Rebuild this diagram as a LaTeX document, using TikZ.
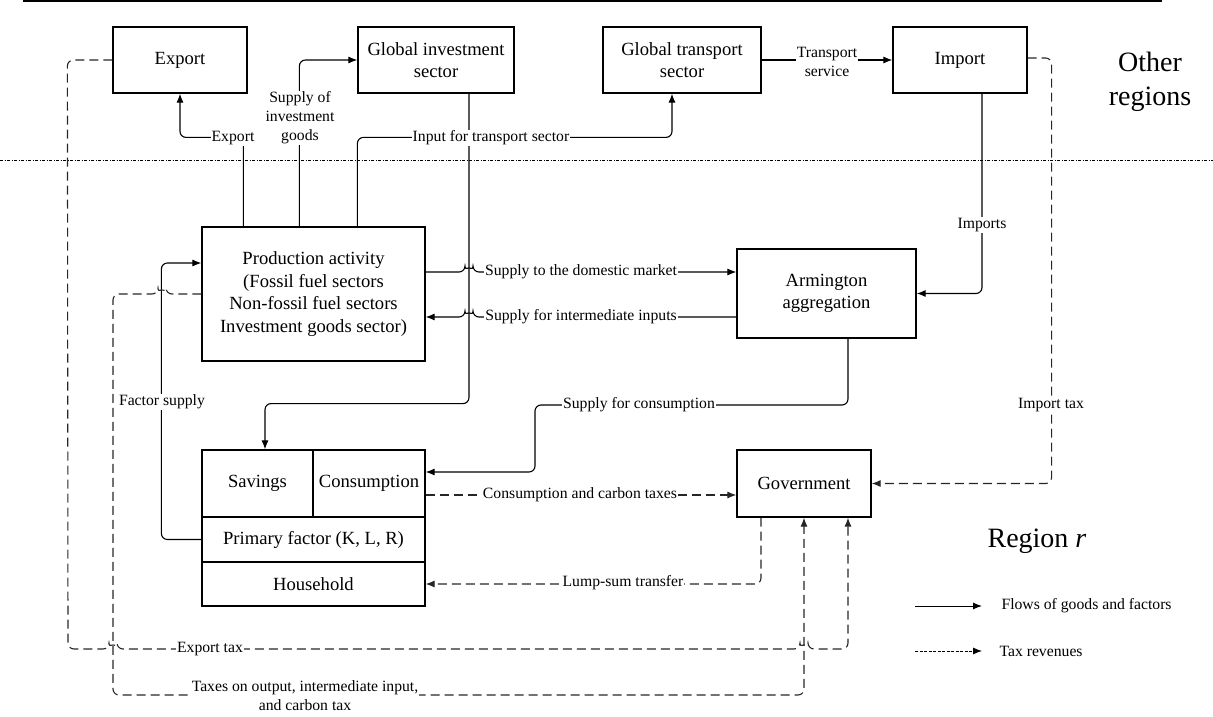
\documentclass[tikz,border=0pt]{standalone}
\usepackage{fontspec}
\setmainfont{Liberation Serif}
\usetikzlibrary{arrows.meta}
\newcommand{\bxfont}{\fontsize{18.6}{22.6}\selectfont}
\newcommand{\lbfont}{\fontsize{15.7}{19}\selectfont}
\newcommand{\bigfont}{\fontsize{28}{34}\selectfont}
\begin{document}
\begin{tikzpicture}[x=1pt,y=-1pt,
  box/.style={draw=black, line width=1.2pt, align=center, font=\bxfont, inner sep=0pt},
  lbl/.style={fill=white, inner sep=1pt, font=\lbfont, align=center},
  flow/.style={draw=black, line width=1.1pt, rounded corners=6pt, -{Latex[length=9pt,width=7pt]}},
  tax/.style={draw=black!85, line width=1.1pt, dash pattern=on 9pt off 5pt, rounded corners=6pt, -{Latex[length=9pt,width=7pt]}},
]
\useasboundingbox (0,0) rectangle (1213,717);
% frame lines
\draw[line width=1.6pt] (23,1) coordinate (tl) -- (1162,1) coordinate (tr);
\draw[line width=0.7pt, dash pattern=on 3pt off 1.5pt on 1pt off 1.5pt] (0,160) coordinate (dl) -- (1213,160) coordinate (dr);

% boxes
\node[box, minimum width=134pt, minimum height=66pt] (exp) at (180,60) {Export};
\node[box, minimum width=156pt, minimum height=66pt] (ginv) at (436,60) {Global investment\\sector};
\node[box, minimum width=158pt, minimum height=66pt] (gtr) at (682,60) {Global transport\\sector};
\node[box, minimum width=134pt, minimum height=66pt] (imp) at (960,60) {Import};
\node[box, minimum width=223pt, minimum height=134pt] (prod) at (313.5,294) {Production activity\\(Fossil fuel sectors\\Non-fossil fuel sectors\\Investment goods sector)};
\node[box, minimum width=179pt, minimum height=89pt] (arm) at (826.5,293.5) {Armington\\aggregation};
\node[box, minimum width=111pt, minimum height=67pt] (sav) at (257.5,483.5) {Savings};
\node[box, minimum width=112pt, minimum height=67pt] (cons) at (369,483.5) {Consumption};
\node[box, minimum width=223pt, minimum height=45pt] (prim) at (313.5,539.5) {Primary factor (K, L, R)};
\node[box, minimum width=223pt, minimum height=44pt] (hh) at (313.5,584) {Household};
\node[box, minimum width=134pt, minimum height=67pt] (gov) at (804,483.5) {Government};

% region labels
\node[font=\bigfont, align=center] (oth) at (1150,82) {Other\\regions};
\node[font=\bigfont] (reg) at (1037,541) {Region \textit{r}};

% solid flows
\draw[flow] ([xshift=42pt]prod.north west) -- ++(0,-89) -| (exp.south);
\draw[flow] ([xshift=98pt]prod.north west) |- (ginv.west);
\draw[flow] ([xshift=156pt]prod.north west) -- ++(0,-89) -| ([xshift=-10pt]gtr.south);
\draw[flow] ([xshift=33pt]ginv.south) -- ++(0,310) -| ([xshift=7.5pt]sav.north);
\draw[flow] (gtr.east) -- (imp.west);
\draw[flow] ([xshift=22pt]imp.south) |- (arm.east);
\draw[flow] ([yshift=22pt]prod.east) -- (465,272) arc[start angle=180,end angle=0,radius=4pt] -- ([yshift=21.5pt]arm.west);
\draw[flow] ([yshift=-23.5pt]arm.west) -- (473,317) arc[start angle=0,end angle=180,radius=4pt] -- ([yshift=-23pt]prod.east);
\draw[flow] ([xshift=21.5pt]arm.south) |- (535,405) |- ([yshift=11.5pt]cons.east);
\draw[flow] (prim.west) -- ++(-40,0) |- ([yshift=31pt]prod.west);

% tax flows
\draw[tax] ([yshift=2pt]imp.east) -- ++(24,0) |- (gov.east);
\draw[tax] (exp.west) -- ++(-45,0) -- (68,649) -- (109,649) arc[start angle=180,end angle=0,radius=4pt] -- (800,649) arc[start angle=180,end angle=0,radius=4pt] -- (848,649) -- ([xshift=44pt]gov.south);
\draw[tax] (prod.west) -- (166,294) arc[start angle=0,end angle=180,radius=4pt] -- (113,294) -- (113,695) -| (gov.south);
\draw[tax] ([yshift=-11.5pt]cons.east) -- ([yshift=-11.5pt]gov.west);
\draw[tax] ([xshift=-43pt]gov.south) |- (hh.east);

% labels
\node[lbl] (lexp) at (233,138) {Export};
\node[lbl] (linv) at (300,118) {Supply of\\investment\\goods};
\node[lbl] (ltr) at (491,138) {Input for transport sector};
\node[lbl] (lts) at (827,62) {Transport\\service};
\node[lbl] (limp) at (982,225) {Imports};
\node[lbl] (litax) at (1051,405) {Import tax};
\node[lbl] (ldom) at (581,272) {Supply to the domestic market};
\node[lbl] (lint) at (581,317) {Supply for intermediate inputs};
\node[lbl] (lfac) at (162,402) {Factor supply};
\node[lbl] (lcons) at (639,405) {Supply for consumption};
\node[lbl] (lctax) at (580,495) {Consumption and carbon taxes};
\node[lbl] (llump) at (623,583) {Lump-sum transfer};
\node[lbl] (letax) at (210,649) {Export tax};
\node[lbl] (lout) at (305,696) {Taxes on output, intermediate input,\\and carbon tax};

% legend
\coordinate (lg1a) at (915,606); \coordinate (lg1b) at (982,606);
\coordinate (lg2a) at (915,651); \coordinate (lg2b) at (982,651);
\draw[line width=1pt, -{Latex[length=9pt,width=7pt]}] (lg1a) -- (lg1b);
\draw[line width=0.8pt, dash pattern=on 3pt off 1.5pt, -{Latex[length=9pt,width=7pt]}] (lg2a) -- (lg2b);
\node[font=\lbfont, anchor=west] (lgt1) at (998,606) {Flows of goods and factors};
\node[font=\lbfont, anchor=west] (lgt2) at (996,651) {Tax revenues};
\end{tikzpicture}
\end{document}
